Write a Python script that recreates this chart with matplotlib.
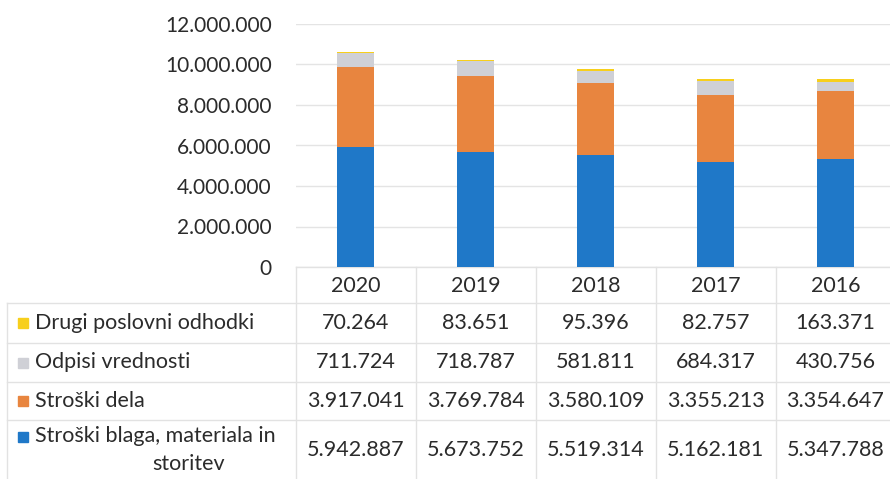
import numpy as np
import matplotlib.pyplot as plt
from matplotlib.ticker import FuncFormatter

plt.rcParams['font.family'] = ['Lato', 'DejaVu Sans']

years = ['2020', '2019', '2018', '2017', '2016']
series = ['Drugi poslovni odhodki', 'Odpisi vrednosti', 'Stroški dela',
          'Stroški blaga, materiala in\nstoritev']
drugi = [70264, 83651, 95396, 82757, 163371]
odpisi = [711724, 718787, 581811, 684317, 430756]
delo = [3917041, 3769784, 3580109, 3355213, 3354647]
blago = [5942887, 5673752, 5519314, 5162181, 5347788]
colors = ['#f7cf1c', '#cfd0d6', '#e8853f', '#1f78c8']
txt_c = '#2b2b2b'
fs = 15.5


def fmt(v):
    return f"{int(v):,}".replace(",", ".")


W, H = 890, 479
fig = plt.figure(figsize=(W / 100, H / 100), dpi=100)

# layout in pixels
x0, col_w = 295.5, 120.0
y_zero, y_top = 267, 24

ax = fig.add_axes([x0 / W, (H - y_zero) / H, 5 * col_w / W, (y_zero - y_top) / H])
ax.set_facecolor('none')
x = np.arange(len(years))
bottom = np.zeros(len(years))
for vals, c in zip([blago, delo, odpisi, drugi], colors[::-1]):
    ax.bar(x, vals, width=0.31, bottom=bottom, color=c, zorder=3)
    bottom += np.array(vals)
ax.set_xlim(-0.5, 4.5)
ax.set_ylim(0, 12000000)
ax.set_yticks(np.arange(0, 12000001, 2000000))
ax.yaxis.set_major_formatter(FuncFormatter(lambda v, p: fmt(v)))
ax.tick_params(axis='y', length=0, pad=17, labelsize=15, labelcolor=txt_c)
ax.set_xticks([])
ax.grid(axis='y', color='#e4e4e4', linewidth=1, zorder=0)
for s in ax.spines.values():
    s.set_visible(False)

# data table below the bars
tb = fig.add_axes([0, 0, 1, 1], zorder=-1)
tb.set_xlim(0, W)
tb.set_ylim(H, 0)
tb.axis('off')
line_c = '#e2e2e2'
row_edges = [303, 343, 382, 420, H]
for i in range(6):
    tb.plot([x0 + i * col_w] * 2, [y_zero, H], color=line_c, lw=1)
tb.plot([7, 7], [row_edges[0], H], color=line_c, lw=1)
tb.plot([x0, W], [y_zero, y_zero], color=line_c, lw=1)
for y in row_edges[:-1]:
    tb.plot([7, W], [y, y], color=line_c, lw=1)

for i, yr in enumerate(years):
    tb.text(x0 + (i + 0.5) * col_w, 286, yr, ha='center', va='center',
            fontsize=fs, color=txt_c)

rows = [drugi, odpisi, delo, blago]
for r, (name, vals, c) in enumerate(zip(series, rows, colors)):
    yc = (row_edges[r] + row_edges[r + 1]) / 2
    for i, v in enumerate(vals):
        tb.text(x0 + (i + 0.5) * col_w, yc, fmt(v), ha='center', va='center',
                fontsize=fs, color=txt_c)
    lines = name.split('\n')
    ky = yc if len(lines) == 1 else yc - 13
    tb.add_patch(plt.Rectangle((18, ky - 5), 10, 10, color=c))
    tb.text(35, ky, lines[0], ha='left', va='center', fontsize=fs, color=txt_c)
    if len(lines) > 1:
        tb.text(189, ky + 27, lines[1], ha='center', va='center',
                fontsize=fs, color=txt_c)

fig.savefig('out.png', dpi=100)
